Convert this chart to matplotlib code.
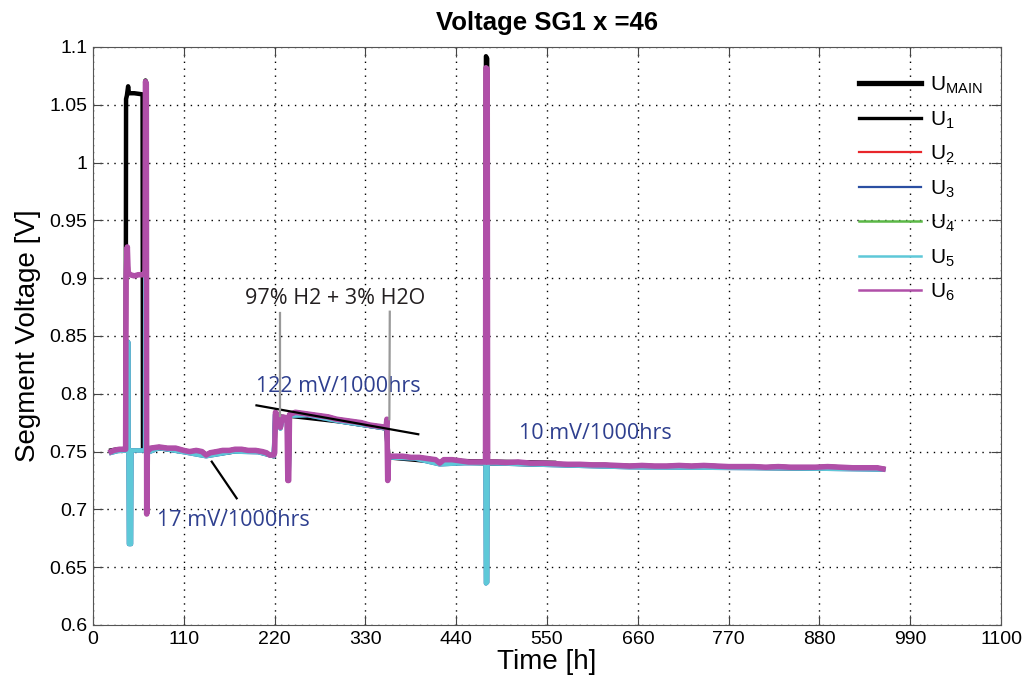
import matplotlib
matplotlib.use("Agg")
import matplotlib.pyplot as plt
from matplotlib.lines import Line2D

plt.rcParams['font.family'] = ['Liberation Sans', 'DejaVu Sans']

# U_MAIN (thick black)
t_main = [22, 30, 39.5, 40, 41, 42.5, 43.5, 50, 60, 60.5, 63, 63.5, 64.5, 65, 65.8,
          80, 110, 140, 170, 200, 219, 221, 236, 237, 238, 300, 355, 358,
          420, 475.5, 476, 477.5, 478, 600, 800, 957]
u_main = [0.751, 0.752, 0.752, 1.055, 1.058, 1.066, 1.060, 1.060, 1.059, 0.752, 0.752, 1.071, 1.069, 0.698, 0.750,
          0.753, 0.750, 0.747, 0.750, 0.750, 0.746, 0.782, 0.778, 0.725, 0.781, 0.776, 0.770, 0.745,
          0.741, 0.740, 1.092, 1.090, 0.740, 0.738, 0.736, 0.735]

# U6 (magenta, drawn on top) - U1, U2, U4 lie underneath it
t_cell = [22, 25, 28, 32, 36, 39.5, 40, 41.5, 42.5, 45, 50, 55, 60, 63, 63.5, 64.5, 65, 65.8,
          70, 75, 80, 90, 100, 105, 110, 117, 125, 132, 137, 142, 150, 157, 165, 172, 180,
          188, 197, 205, 210, 214, 219, 220, 221, 224, 226, 227, 228, 230, 235, 236, 237, 238,
          245, 255, 265, 275, 285, 295, 305, 315, 325, 335, 345, 355, 356, 357, 358,
          365, 375, 385, 395, 405, 415, 420, 425, 435, 445, 455, 465, 475.5, 476, 477.5, 478,
          490, 500, 515, 530, 545, 560, 575, 590, 605, 620, 635, 650, 665, 680, 695, 710,
          725, 740, 755, 770, 785, 800, 815, 830, 845, 860, 875, 890, 905, 920, 935, 950, 957]
u6 = [0.750, 0.751, 0.7515, 0.752, 0.752, 0.752, 0.900, 0.927, 0.905, 0.903, 0.902, 0.903, 0.903, 0.904, 1.070, 1.068, 0.696, 0.750,
      0.753, 0.7535, 0.754, 0.753, 0.753, 0.752, 0.751, 0.750, 0.751, 0.750, 0.747, 0.749, 0.750, 0.751, 0.751, 0.752, 0.752,
      0.751, 0.751, 0.750, 0.749, 0.747, 0.747, 0.749, 0.784, 0.781, 0.776, 0.771, 0.775, 0.780, 0.779, 0.725, 0.725, 0.782,
      0.784, 0.783, 0.782, 0.781, 0.780, 0.778, 0.777, 0.776, 0.775, 0.773, 0.772, 0.771, 0.778, 0.725, 0.746,
      0.746, 0.746, 0.745, 0.745, 0.744, 0.743, 0.740, 0.743, 0.743, 0.742, 0.741, 0.741, 0.741, 1.082, 1.081, 0.741,
      0.741, 0.7405, 0.741, 0.740, 0.740, 0.7395, 0.739, 0.739, 0.7385, 0.7385, 0.738, 0.7375, 0.738, 0.7375, 0.7375, 0.738,
      0.7375, 0.738, 0.7375, 0.737, 0.737, 0.737, 0.7365, 0.737, 0.7365, 0.7365, 0.7365, 0.737, 0.7365, 0.736, 0.736, 0.736, 0.735]
u1 = list(u6)
u2 = list(u6)
u4 = list(u6)

# U5 (cyan) and U3 (blue) carry the downward spikes
t_low = [22, 30, 42, 42.5, 43, 43.5, 46, 46.5, 55, 63, 63.5, 64.5, 65, 65.8, 80, 110, 137, 170, 200, 219,
         220.5, 224, 227, 230, 235, 236, 237, 238, 260, 300, 355, 356, 357, 358, 390, 420, 450,
         475.5, 476, 477.5, 478, 550, 650, 750, 850, 957]
u5 = [0.749, 0.7505, 0.751, 0.845, 0.751, 0.670, 0.670, 0.751, 0.751, 0.751, 1.064, 1.062, 0.700, 0.749, 0.753, 0.7495, 0.746, 0.750, 0.7495, 0.746,
      0.782, 0.780, 0.770, 0.779, 0.778, 0.726, 0.726, 0.781, 0.7815, 0.776, 0.770, 0.776, 0.726, 0.745, 0.744, 0.739, 0.740,
      0.740, 0.636, 0.637, 0.740, 0.7385, 0.7365, 0.736, 0.7355, 0.7345]
u3 = list(u5)

labels = ['U$_\\mathregular{MAIN}$', 'U$_\\mathregular{1}$', 'U$_\\mathregular{2}$', 'U$_\\mathregular{3}$',
          'U$_\\mathregular{4}$', 'U$_\\mathregular{5}$', 'U$_\\mathregular{6}$']
colors = ['black', 'black', '#e8262b', '#2b4fa2', '#5bb846', '#5ec8d8', '#b04fa8']
legend_widths = [3.8, 2.4, 1.6, 1.6, 1.8, 1.8, 1.8]

x_ticks = [0, 110, 220, 330, 440, 550, 660, 770, 880, 990, 1100]
y_ticks = [0.6, 0.65, 0.7, 0.75, 0.8, 0.85, 0.9, 0.95, 1.0, 1.05, 1.1]
y_tick_labels = ['0.6', '0.65', '0.7', '0.75', '0.8', '0.85', '0.9', '0.95', '1', '1.05', '1.1']

fig = plt.figure(figsize=(10.27, 6.89), dpi=100)
ax = fig.add_axes([0.0906, 0.0929, 0.8841, 0.8389])

ax.plot(t_main, u_main, color=colors[0], lw=3.2)
ax.plot(t_cell, u1, color=colors[1], lw=3)
ax.plot(t_cell, u2, color=colors[2], lw=3)
ax.plot(t_low, u3, color=colors[3], lw=3.2)
ax.plot(t_cell, u4, color=colors[4], lw=3)
ax.plot(t_low, u5, color=colors[5], lw=3.2)
ax.plot(t_cell, u6, color=colors[6], lw=4)

# trend lines
ax.plot([198, 394], [0.790, 0.765], color='black', lw=1.6, zorder=5)
ax.plot([445, 560], [0.7428, 0.7412], color='black', lw=1.6, zorder=1.5)
ax.plot([143.8, 174], [0.7413, 0.7096], color='black', lw=1.6, zorder=5)

# gray pointer lines
ax.plot([226.5, 226.5], [0.870, 0.781], color='#999999', lw=1.6, zorder=5)
ax.plot([359.5, 359], [0.871, 0.778], color='#999999', lw=1.6, zorder=5)

ann = dict(fontfamily=['Open Sans', 'DejaVu Sans'], fontsize=15.5, ha='center', va='center')
ax.text(293, 0.882, '97% H2 + 3% H2O', color='#231f20', **ann)
ax.text(297, 0.806, '122 mV/1000hrs', color='#2e3f8f', **ann)
ax.text(170, 0.690, '17 mV/1000hrs', color='#2e3f8f', **ann)
ax.text(608, 0.766, '10 mV/1000hrs', color='#2e3f8f', **ann)

ax.set_xlim(0, 1100)
ax.set_ylim(0.6, 1.1)
ax.set_xticks(x_ticks)
ax.set_yticks(y_ticks)
ax.set_yticklabels(y_tick_labels)
ax.tick_params(direction='in', length=7, top=True, right=True, labelsize=14, color='#444444', pad=4)
ax.grid(True, linestyle=(0, (1, 4)), color='black', lw=1)
for s in ax.spines.values():
    s.set_color('#555555')

ax.set_title('Voltage SG1 x =46', fontsize=18.5, fontweight='bold', pad=12)
ax.set_xlabel('Time [h]', fontsize=20, labelpad=1)
ax.set_ylabel('Segment Voltage [V]', fontsize=20, labelpad=6)

handles = [Line2D([], [], color=c, lw=w) for c, w in zip(colors, legend_widths)]
ax.legend(handles, labels, loc='upper right', bbox_to_anchor=(1.0, 0.985), frameon=False, fontsize=15,
          handlelength=3.0, labelspacing=0.62, handletextpad=0.4)

fig.savefig('out.png', dpi=100)
